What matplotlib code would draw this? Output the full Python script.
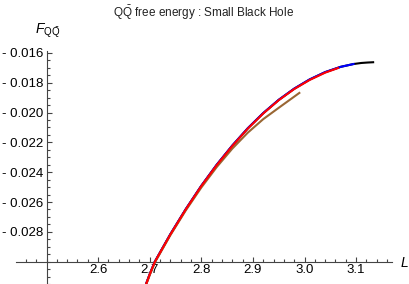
import matplotlib
matplotlib.use("Agg")
import matplotlib.pyplot as plt
from matplotlib.ticker import MultipleLocator, FixedLocator, FuncFormatter

# curves (L, F_QQbar)
L_black = [2.693, 2.700, 2.710, 2.74, 2.77, 2.80, 2.83, 2.86, 2.89, 2.92, 2.95, 2.98,
           3.01, 3.04, 3.07, 3.095, 3.11, 3.122, 3.133]
F_black = [-0.03150, -0.03085, -0.03000, -0.02817, -0.02648, -0.02492, -0.02350, -0.02222,
           -0.02106, -0.02004, -0.01915, -0.01840, -0.01778, -0.01729, -0.01693, -0.01674,
           -0.01667, -0.01664, -0.01662]

L_blue = [2.693, 2.700, 2.710, 2.74, 2.77, 2.80, 2.83, 2.86, 2.89, 2.92, 2.95, 2.98,
          3.01, 3.04, 3.07, 3.095]
F_blue = [-0.03150, -0.03085, -0.03000, -0.02816, -0.02647, -0.02491, -0.02349, -0.02221,
          -0.02105, -0.02003, -0.01914, -0.01839, -0.01777, -0.01728, -0.01693, -0.01674]

L_red = [2.693, 2.700, 2.710, 2.74, 2.77, 2.80, 2.83, 2.86, 2.89, 2.92, 2.95, 2.98,
         3.01, 3.04, 3.065]
F_red = [-0.03151, -0.03086, -0.03001, -0.02818, -0.02649, -0.02493, -0.02352, -0.02224,
         -0.02108, -0.02006, -0.01917, -0.01842, -0.01781, -0.01732, -0.01701]

L_brown = [2.693, 2.700, 2.710, 2.74, 2.77, 2.80, 2.83, 2.86, 2.89, 2.92, 2.95, 2.97, 2.99]
F_brown = [-0.03156, -0.03091, -0.03006, -0.02823, -0.02656, -0.02503, -0.02365, -0.02242,
           -0.02135, -0.02044, -0.01968, -0.01918, -0.01868]

x_ticks = [2.6, 2.7, 2.8, 2.9, 3.0, 3.1]
y_ticks = [-0.016, -0.018, -0.020, -0.022, -0.024, -0.026, -0.028]

plt.rcParams['font.family'] = ['Liberation Sans', 'DejaVu Sans']
plt.rcParams['mathtext.fontset'] = 'custom'
plt.rcParams['mathtext.rm'] = 'Liberation Sans'
plt.rcParams['mathtext.it'] = 'Liberation Sans:italic'

W, H = 409, 284
fig = plt.figure(figsize=(W / 100, H / 100), dpi=100)
ax = fig.add_axes([16 / W, 0, 376 / W, (H - 51) / H])

ax.plot(L_black, F_black, color='black', lw=1.5, zorder=3)
ax.plot(L_blue, F_blue, color=(0, 0, 1), lw=1.5, zorder=3)
ax.plot(L_brown, F_brown, color=(0.6, 0.4, 0.2), lw=1.5, zorder=3)
ax.plot(L_red, F_red, color=(1, 0, 0), lw=1.5, zorder=3)

ax.set_xlim(2.44089, 3.16957)
ax.set_ylim(-0.031503, -0.015866)

for s in ['top', 'right']:
    ax.spines[s].set_visible(False)
ax.spines['left'].set_position(('data', 2.5))
ax.spines['bottom'].set_position(('data', -0.030))
for s in ['left', 'bottom']:
    ax.spines[s].set_color('#444444')
    ax.spines[s].set_linewidth(0.8)

ax.xaxis.set_major_locator(FixedLocator(x_ticks))
ax.xaxis.set_minor_locator(MultipleLocator(0.02))
ax.yaxis.set_major_locator(FixedLocator(y_ticks))
ax.yaxis.set_minor_locator(MultipleLocator(0.0005))
ax.xaxis.set_major_formatter(FuncFormatter(lambda v, p: f'{v:.1f}'))
ax.yaxis.set_major_formatter(FuncFormatter(lambda v, p: f'- {abs(v):.3f}'))

ax.tick_params(which='both', direction='in', color='#444444', width=0.8, labelsize=9.5)
ax.tick_params(which='major', length=3.5)
ax.tick_params(which='minor', length=2)
ax.tick_params(axis='x', pad=1.5)
ax.tick_params(axis='y', pad=2.5)
ax.patch.set_visible(False)

fig.text(203.7 / W, 1 - 13.3 / H, r'$\mathrm{Q\bar{Q}}$ free energy : Small Black Hole',
         ha='center', va='center', fontsize=8.5, color='#222222')
fig.text(35 / W, 1 - 34 / H, r'$F_{\mathrm{Q\bar{Q}}}$', ha='left', va='baseline',
         fontsize=10)
fig.text(400 / W, 1 - 263 / H, r'$L$', ha='left', va='center', fontsize=10)

fig.savefig('out.png', dpi=100)
